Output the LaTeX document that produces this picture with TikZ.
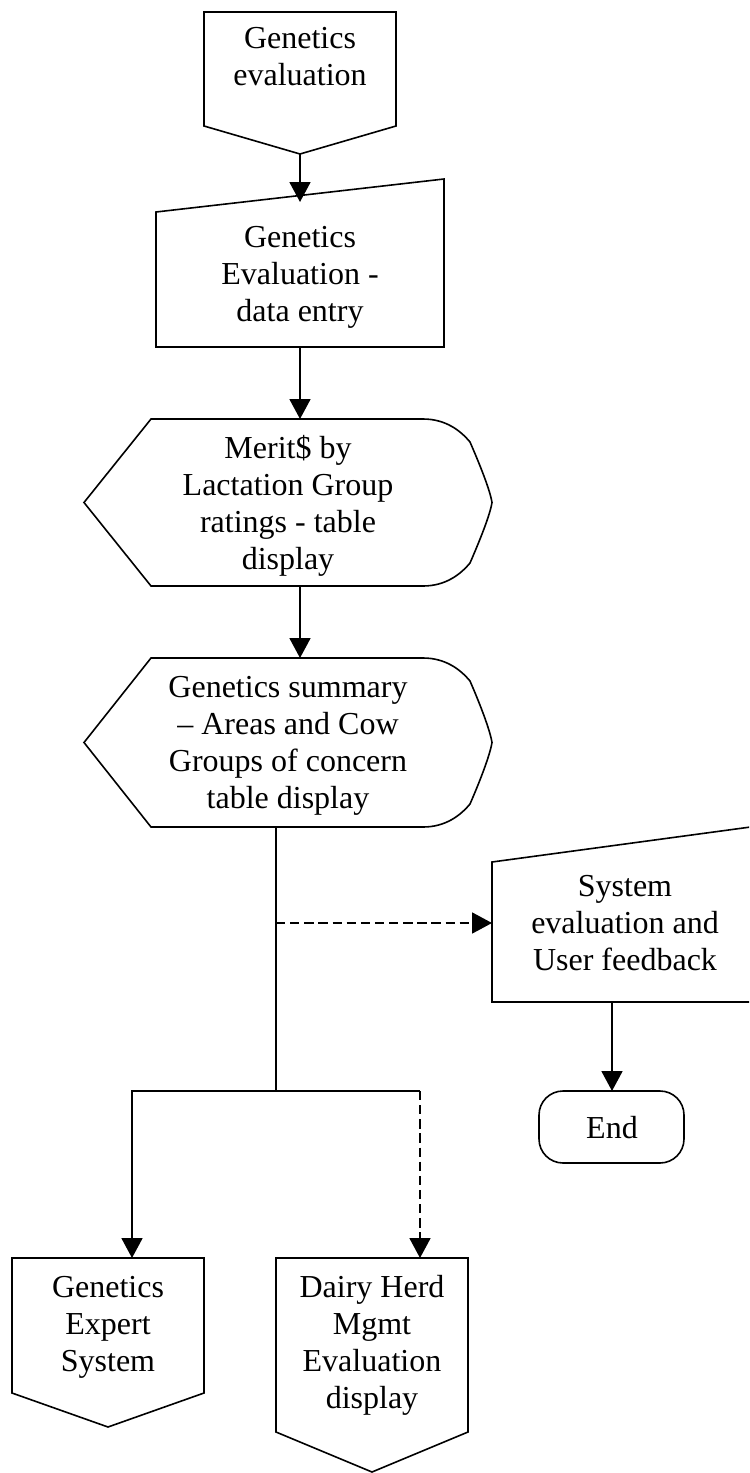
\documentclass[tikz,border=0pt]{standalone}
\usepackage{fontspec}
\setmainfont{Liberation Serif}
\usetikzlibrary{arrows.meta}
\begin{document}
\begin{tikzpicture}[x=0.375pt,y=-0.375pt,
  shp/.style={draw=black, line width=0.6pt},
  txt/.style={font=\fontsize{12}{13.8}\selectfont, align=center, inner sep=0pt},
  conn/.style={line width=0.6pt, -{Triangle[length=7.5pt,width=7.9pt]}},
  plain/.style={line width=0.6pt},
  dashline/.style={dash pattern=on 3.5pt off 1.8pt}]
\useasboundingbox (0,0) rectangle (749,1473);
\clip (0,0) rectangle (749,1473);

% off-page connector: Genetics evaluation
\draw[shp] (204,12) -- (396,12) -- (396,126) -- (300,154) -- (204,126) -- cycle;
\coordinate (geout) at (300,154);
\node[txt] (tge) at (300,60) {\strut Genetics\\evaluation\strut};

% manual input: data entry
\draw[shp] (156,212) -- (444,179) -- (444,347) -- (156,347) -- cycle;
\coordinate (dein) at (300,202);
\coordinate (deout) at (300,347);
\node[txt] (tde) at (300,277.4) {\strut Genetics\\Evaluation -\\data entry\strut};

% display 1
\draw[shp] (84,502.5) -- (151,419) -- (423,419)
  .. controls (445,419) and (460,430) .. (470,442)
  .. controls (480,465) and (490,490) .. (492,502.5)
  .. controls (490,515) and (480,540) .. (470,563)
  .. controls (460,575) and (445,586) .. (423,586)
  -- (151,586) -- cycle;
\coordinate (d1in) at (300,419);
\coordinate (d1out) at (300,586);
\node[txt] (td1) at (288,506.8) {\strut Merit\$ by\\Lactation Group\\ratings - table\\display\strut};

% display 2
\draw[shp] (84,742.5) -- (151,658) -- (423,658)
  .. controls (445,658) and (460,669) .. (470,681)
  .. controls (480,704) and (490,730) .. (492,742.5)
  .. controls (490,755) and (480,781) .. (470,804)
  .. controls (460,816) and (445,827) .. (423,827)
  -- (151,827) -- cycle;
\coordinate (d2in) at (300,658);
\coordinate (d2out) at (276,827);
\node[txt] (td2) at (288,745.8) {\strut Genetics summary\\– Areas and Cow\\Groups of concern\\table display\strut};

% manual input: system evaluation
\draw[shp] (492,862) -- (758,826) -- (758,1002) -- (492,1002) -- cycle;
\coordinate (sein) at (492,923);
\coordinate (seout) at (612,1002);
\node[txt] (tse) at (625,926.4) {\strut System\\evaluation and\\User feedback\strut};

% terminator: End
\draw[shp, rounded corners=9pt] (539,1091) rectangle (684,1163);
\coordinate (endin) at (612,1091);
\node[txt] (tend) at (612,1131.6) {\strut End\strut};

% off-page connector: Genetics Expert System
\draw[shp] (12,1258) -- (204,1258) -- (204,1393) -- (108,1427) -- (12,1393) -- cycle;
\coordinate (gesin) at (132,1258);
\node[txt] (tges) at (108,1327.4) {\strut Genetics\\Expert\\System\strut};

% off-page connector: Dairy Herd Mgmt
\draw[shp] (276,1258) -- (468,1258) -- (468,1432) -- (372,1472) -- (276,1432) -- cycle;
\coordinate (dhmin) at (420,1258);
\node[txt] (tdhm) at (372,1345.8) {\strut Dairy Herd\\Mgmt\\Evaluation\\display\strut};

% junction coordinates
\coordinate (jdash) at (276,923);
\coordinate (jmain) at (276,1091);
\coordinate (jleft) at (132,1091);
\coordinate (jright) at (420,1091);

% connectors
\draw[conn] (geout) -- (dein);
\draw[conn] (deout) -- (d1in);
\draw[conn] (d1out) -- (d2in);
\draw[plain] (d2out) -- (jmain);
\draw[conn, dashline] (jdash) -- (sein);
\draw[conn] (jmain) -- (jleft) -- (gesin);
\draw[plain] (jmain) -- (jright);
\draw[conn, dashline] (jright) -- (dhmin);
\draw[conn] (seout) -- (endin);
\end{tikzpicture}
\end{document}
